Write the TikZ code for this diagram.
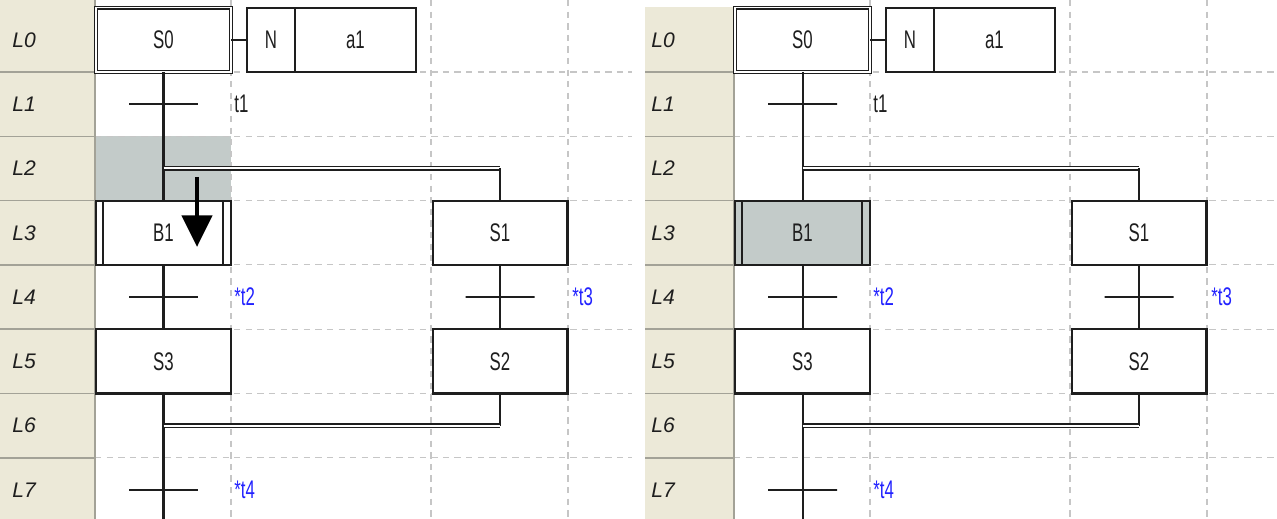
\documentclass[tikz,border=0pt]{standalone}
\usepackage{fontspec}
\setmainfont{Liberation Sans}
\newfontfamily\ladfont[FakeStretch=0.66]{Liberation Sans}
\usetikzlibrary{arrows.meta,positioning,calc}
\definecolor{beige}{HTML}{ECE9D8}
\definecolor{rowgray}{HTML}{A3A297}
\definecolor{gridgray}{HTML}{C6C6C6}
\definecolor{selgray}{HTML}{C3CBC9}
\definecolor{tblue}{HTML}{2222FF}
\definecolor{ink}{HTML}{1E1E1E}
\tikzset{wire/.style={line width=1.15pt,draw=ink},
  dblwire/.style={draw=ink,double=white,double distance=1.1pt,line width=0.7pt},
  gridline/.style={draw=gridgray,line width=0.6pt,dash pattern=on 3.6pt off 3pt},
  rowline/.style={draw=rowgray,line width=0.8pt},
  rowlabel/.style={anchor=west,font=\itshape\fontsize{12}{12}\selectfont,text=ink,inner sep=0pt},
  stepbox/.style={draw=ink,fill=white,line width=1.15pt,minimum width=2.7cm,minimum height=1.286cm,
    inner sep=0pt,outer sep=0pt,font=\ladfont\fontsize{14.5}{14.5}\selectfont,text=ink},
  initstep/.style={stepbox,double=white,double distance=0.9pt,line width=0.75pt},
  actbox/.style={stepbox,minimum height=1.28cm},
  trans/.style={draw=ink,line width=1.15pt,minimum width=1.38cm,minimum height=0pt,inner sep=0pt,outer sep=0pt},
  tlabel/.style={anchor=west,inner sep=0pt,font=\ladfont\fontsize{14.5}{14.5}\selectfont,text=ink},
  starlabel/.style={tlabel,text=tblue},
  droparrow/.style={-{Triangle[width=17pt,length=18pt]},line width=2.8pt,draw=black}}

\begin{document}
\begin{tikzpicture}[x=0.02cm,y=-0.02cm]
\useasboundingbox (0,0) rectangle (1277,519);
% left panel: B1 being dragged into L3
\fill[selgray] (95,136.3) rectangle (231,200.6);
\foreach \y in {72,136.3,200.6,264.9,329.2,393.5,457.8} \draw[gridline] (95,\y) -- (632,\y);
\foreach \x in {231,431,568} \draw[gridline] (\x,0) -- (\x,519);
\fill[beige] (0,0) rectangle (95,519);
\foreach \y in {72,136.3,200.6,264.9,329.2,393.5,457.8} \draw[rowline] (0,\y) -- (95,\y);
\draw[rowline,line width=1.1pt] (95,0) -- (95,519);
\foreach \k in {0,...,7} \node[rowlabel] (row\k) at (12,39.85+64.3*\k) {L\k};
\coordinate (dl) at (163.5,168.45);
\coordinate (dr) at (500,168.45);
\coordinate (cl) at (163.5,425.65);
\coordinate (cr) at (500,425.65);
\coordinate (bottom) at (163.5,519);
\node[initstep] (s0) at (163.5,39.85) {S0};
\node[actbox,minimum width=0.96cm,anchor=west] (n0) at (247,39.85) {N};
\node[actbox,minimum width=2.42cm,right=0pt of n0] (a1) {a1};
\node[trans] (tr1) at (163.5,104.15) {};
\node[tlabel] (t1) at (234,104.15) {t1};
\node[stepbox] (b1) at (163.5,232.75) {B1};
\node[stepbox] (s1) at (500,232.75) {S1};
\node[trans] (tr2) at (163.5,297.05) {};
\node[starlabel] (t2) at (234,297.05) {*t2};
\node[trans] (tr3) at (500,297.05) {};
\node[starlabel] (t3) at (572,297.05) {*t3};
\node[stepbox] (s3) at (163.5,361.35) {S3};
\node[stepbox] (s2) at (500,361.35) {S2};
\node[trans] (tr4) at (163.5,489.95) {};
\node[starlabel] (t4) at (234,489.95) {*t4};
\draw[wire] (s0.east) -- (n0.west);
\draw[wire] (s0.south) -- (b1.north);
\draw[wire] ($(b1.north west)+(7,0)$) -- ($(b1.south west)+(7,0)$);
\draw[wire] ($(b1.north east)+(-8,0)$) -- ($(b1.south east)+(-8,0)$);
\draw[wire] (b1.south) -- (s3.north);
\draw[wire] (s3.south) -- (bottom);
\draw[dblwire] (dl) -- (dr);
\draw[wire] (dr) -- (s1.north);
\draw[wire] (s1.south) -- (s2.north);
\draw[wire] (s2.south) -- (cr);
\draw[dblwire] (cl) -- (cr);
\coordinate (dragfrom) at (197,177);
\coordinate (dragto) at (197,247);
\draw[droparrow] (dragfrom) -- (dragto);
% right panel: B1 dropped
\begin{scope}[shift={(639,0)}]
\foreach \y in {72,136.3,200.6,264.9,329.2,393.5,457.8} \draw[gridline] (95,\y) -- (638,\y);
\foreach \x in {231,431,568} \draw[gridline] (\x,0) -- (\x,519);
\fill[beige] (6,7) rectangle (95,519);
\foreach \y in {72,136.3,200.6,264.9,329.2,393.5,457.8} \draw[rowline] (6,\y) -- (95,\y);
\draw[rowline,line width=1.1pt] (95,7) -- (95,519);
\foreach \k in {0,...,7} \node[rowlabel] (rowr\k) at (12,39.85+64.3*\k) {L\k};
\coordinate (dlr) at (163.5,168.45);
\coordinate (drr) at (500,168.45);
\coordinate (clr) at (163.5,425.65);
\coordinate (crr) at (500,425.65);
\coordinate (bottomr) at (163.5,519);
\node[initstep] (s0r) at (163.5,39.85) {S0};
\node[actbox,minimum width=0.96cm,anchor=west] (n0r) at (247,39.85) {N};
\node[actbox,minimum width=2.42cm,right=0pt of n0r] (a1r) {a1};
\node[trans] (tr1r) at (163.5,104.15) {};
\node[tlabel] (t1r) at (234,104.15) {t1};
\node[stepbox,fill=selgray] (b1r) at (163.5,232.75) {B1};
\node[stepbox] (s1r) at (500,232.75) {S1};
\node[trans] (tr2r) at (163.5,297.05) {};
\node[starlabel] (t2r) at (234,297.05) {*t2};
\node[trans] (tr3r) at (500,297.05) {};
\node[starlabel] (t3r) at (572,297.05) {*t3};
\node[stepbox] (s3r) at (163.5,361.35) {S3};
\node[stepbox] (s2r) at (500,361.35) {S2};
\node[trans] (tr4r) at (163.5,489.95) {};
\node[starlabel] (t4r) at (234,489.95) {*t4};
\draw[wire] (s0r.east) -- (n0r.west);
\draw[wire] (s0r.south) -- (b1r.north);
\draw[wire] ($(b1r.north west)+(7,0)$) -- ($(b1r.south west)+(7,0)$);
\draw[wire] ($(b1r.north east)+(-8,0)$) -- ($(b1r.south east)+(-8,0)$);
\draw[wire] (b1r.south) -- (s3r.north);
\draw[wire] (s3r.south) -- (bottomr);
\draw[dblwire] (dlr) -- (drr);
\draw[wire] (drr) -- (s1r.north);
\draw[wire] (s1r.south) -- (s2r.north);
\draw[wire] (s2r.south) -- (crr);
\draw[dblwire] (clr) -- (crr);
\end{scope}
\end{tikzpicture}
\end{document}
